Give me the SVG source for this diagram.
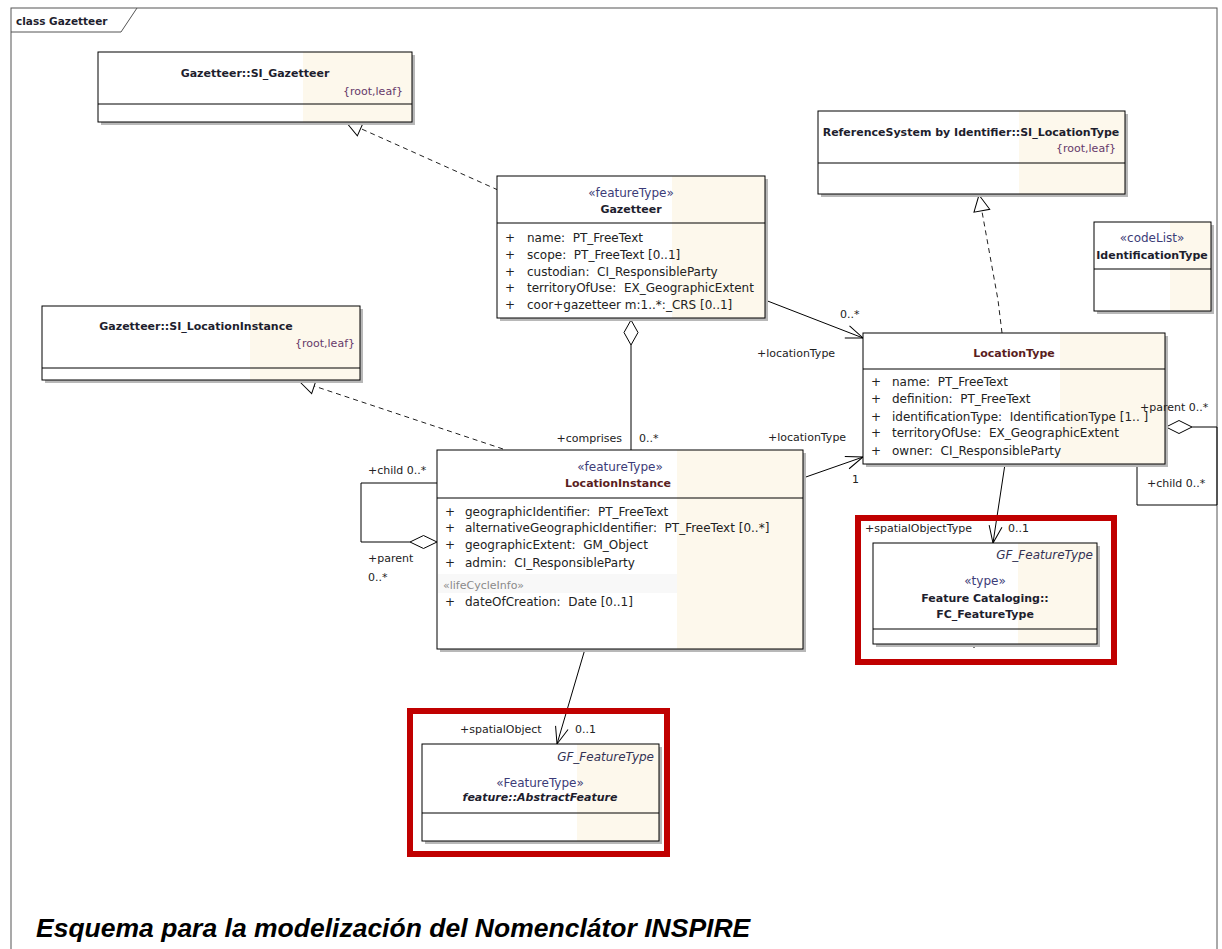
<svg xmlns="http://www.w3.org/2000/svg" width="1222" height="949" viewBox="0 0 1222 949">
<style>
.bg{fill:#fff}
.box{fill:none;stroke:#000;stroke-width:1}
.fill{fill:#fff}
.shade{fill:#fdf8ec}
.shadow{fill:#b8b8b8}
.t{font-family:"DejaVu Sans",sans-serif;font-size:12px;fill:#222;white-space:pre}
.b{font-weight:bold;font-size:11px;fill:#1e1e2e}
.nm{fill:#5a1e1e}
.st{fill:#3c3c78}
.rl{fill:#663a6a;font-size:11px}
.lbl{font-size:11px;fill:#222}
.it{font-style:italic;fill:#333355}
.grey{fill:#8a8a8a;font-size:11px}
.conn{stroke:#000;fill:none;stroke-width:1}
.dash{stroke-dasharray:5,4;stroke:#222}
.red{fill:none;stroke:#c00000;stroke-width:6}
.mid{text-anchor:middle}
.end{text-anchor:end}
</style>
<defs>
<marker id="open" viewBox="-19 -8 21 16" refX="0" refY="0" markerWidth="21" markerHeight="16" orient="auto" markerUnits="userSpaceOnUse">
<path d="M-17,-6.5 L0,0 L-17,6.5" fill="none" stroke="#000" stroke-width="1"/>
</marker>
<marker id="tri" viewBox="-18 -10 20 20" refX="0" refY="0" markerWidth="20" markerHeight="20" orient="auto" markerUnits="userSpaceOnUse">
<path d="M0,0 L-16,-8 L-16,8 Z" fill="#fff" stroke="#000" stroke-width="1" stroke-dasharray="none"/>
</marker>
</defs>
<rect class="bg" x="0" y="0" width="1222" height="949"/>
<g id="frame">
<rect x="11" y="8" width="1206" height="960" fill="none" stroke="#555" stroke-width="1"/>
<path d="M11,32 L121,32 L137,8" fill="none" stroke="#555" stroke-width="1"/>
<text class="t b" x="16" y="25" style="font-size:10.5px">class Gazetteer</text>
</g>
<g id="connectors">
<path class="conn dash" d="M498,190 L346,122" marker-end="url(#tri)"/>
<path class="conn dash" d="M503,449 L299,381" marker-end="url(#tri)"/>
<path class="conn dash" d="M1002,333 L998,300 L979,195" marker-end="url(#tri)"/>
<path class="conn" d="M765,300 L863,338" marker-end="url(#open)"/>
<path class="conn" d="M803,478 L863,457" marker-end="url(#open)"/>
<polygon points="631,320 638,332.5 631,345 624,332.5" fill="#fff" stroke="#000" stroke-width="1"/>
<path class="conn" d="M631,345 L631,450"/>
<path class="conn" d="M437,483 L361,483 L361,542 L410,542"/>
<polygon points="437,542 423.5,535.5 410,542 423.5,548.5" fill="#fff" stroke="#000" stroke-width="1"/>
<polygon points="1166,427 1179,420.5 1192,427 1179,433.5" fill="#fff" stroke="#000" stroke-width="1"/>
<path class="conn" d="M1192,427 L1217,427 L1217,505 L1137,505 L1137,464"/>
<path class="conn" d="M1005,464 L993,543" marker-end="url(#open)"/>
<path class="conn" d="M585,649 L557,744" marker-end="url(#open)"/>
<path class="conn" d="M974,644 L974,648"/>
<text class="t lbl" x="757" y="357">+locationType</text>
<text class="t lbl" x="840" y="318">0..*</text>
<text class="t lbl" x="768" y="441">+locationType</text>
<text class="t lbl" x="852" y="483">1</text>
<text class="t lbl end" x="622" y="442">+comprises</text>
<text class="t lbl" x="639" y="442">0..*</text>
<text class="t lbl" x="368" y="474">+child 0..*</text>
<text class="t lbl" x="368" y="562">+parent</text>
<text class="t lbl" x="368" y="581">0..*</text>
<text class="t lbl" x="1147" y="487">+child 0..*</text>
<text class="t lbl" x="865" y="532">+spatialObjectType</text>
<text class="t lbl" x="1008" y="532">0..1</text>
<text class="t lbl" x="460" y="733">+spatialObject</text>
<text class="t lbl" x="575" y="733">0..1</text>
</g>
<g id="SI_Gazetteer">
<rect class="shadow" x="101" y="55" width="314" height="70"/>
<rect class="fill" x="98" y="52" width="314" height="70"/>
<rect class="shade" x="303" y="52" width="109" height="70"/>
<rect class="box" x="98" y="52" width="314" height="70"/>
<line class="box" x1="98" y1="104" x2="412" y2="104"/>
<text class="t b mid" x="255" y="77">Gazetteer::SI_Gazetteer</text>
<text class="t rl end" x="403" y="95">{root,leaf}</text>
</g>
<g id="Gazetteer">
<rect class="shadow" x="500" y="179" width="268" height="142"/>
<rect class="fill" x="497" y="176" width="268" height="142"/>
<rect class="shade" x="672" y="176" width="93" height="142"/>
<rect class="box" x="497" y="176" width="268" height="142"/>
<line class="box" x1="497" y1="223" x2="765" y2="223"/>
<text class="t st mid" x="631" y="197">«featureType»</text>
<text class="t b mid" x="631" y="213">Gazetteer</text>
<text class="t" x="505" y="242">+</text><text class="t" x="527" y="242">name:  PT_FreeText</text>
<text class="t" x="505" y="259">+</text><text class="t" x="527" y="259">scope:  PT_FreeText [0..1]</text>
<text class="t" x="505" y="276">+</text><text class="t" x="527" y="276">custodian:  CI_ResponsibleParty</text>
<text class="t" x="505" y="292">+</text><text class="t" x="527" y="292">territoryOfUse:  EX_GeographicExtent</text>
<text class="t" x="505" y="309">+</text><text class="t" x="527" y="309">coor+gazetteer m:1..*:_CRS [0..1]</text>
</g>
<g id="SI_LocationType">
<rect class="shadow" x="821" y="114" width="307" height="83"/>
<rect class="fill" x="818" y="111" width="307" height="83"/>
<rect class="shade" x="1019" y="111" width="106" height="83"/>
<rect class="box" x="818" y="111" width="307" height="83"/>
<line class="box" x1="818" y1="163" x2="1125" y2="163"/>
<text class="t b mid" x="971" y="136">ReferenceSystem by Identifier::SI_LocationType</text>
<text class="t rl end" x="1116" y="152">{root,leaf}</text>
</g>
<g id="IdentificationType">
<rect class="shadow" x="1097" y="225" width="117" height="89"/>
<rect class="fill" x="1094" y="222" width="117" height="89"/>
<rect class="shade" x="1170" y="222" width="41" height="89"/>
<rect class="box" x="1094" y="222" width="117" height="89"/>
<line class="box" x1="1094" y1="269" x2="1211" y2="269"/>
<text class="t st mid" x="1152" y="242">«codeList»</text>
<text class="t b mid" x="1152" y="259">IdentificationType</text>
</g>
<g id="SI_LocationInstance">
<rect class="shadow" x="45" y="309" width="318" height="74"/>
<rect class="fill" x="42" y="306" width="318" height="74"/>
<rect class="shade" x="250" y="306" width="110" height="74"/>
<rect class="box" x="42" y="306" width="318" height="74"/>
<line class="box" x1="42" y1="368" x2="360" y2="368"/>
<text class="t b mid" x="196" y="330">Gazetteer::SI_LocationInstance</text>
<text class="t rl end" x="355" y="347">{root,leaf}</text>
</g>
<g id="LocationType">
<rect class="shadow" x="866" y="336" width="302" height="131"/>
<rect class="fill" x="863" y="333" width="302" height="131"/>
<rect class="shade" x="1060" y="333" width="105" height="131"/>
<rect class="box" x="863" y="333" width="302" height="131"/>
<line class="box" x1="863" y1="369" x2="1165" y2="369"/>
<text class="t b nm mid" x="1014" y="357">LocationType</text>
<text class="t" x="871" y="386">+</text><text class="t" x="892" y="386">name:  PT_FreeText</text>
<text class="t" x="871" y="403">+</text><text class="t" x="892" y="403">definition:  PT_FreeText</text>
<text class="t" x="871" y="421">+</text><text class="t" x="892" y="421">identificationType:  IdentificationType [1.. ]</text>
<text class="t" x="871" y="437">+</text><text class="t" x="892" y="437">territoryOfUse:  EX_GeographicExtent</text>
<text class="t" x="871" y="455">+</text><text class="t" x="892" y="455">owner:  CI_ResponsibleParty</text>
<text class="t lbl" x="1140" y="411">+parent 0..*</text>
</g>
<g id="LocationInstance">
<rect class="shadow" x="440" y="453" width="366" height="199"/>
<rect class="fill" x="437" y="450" width="366" height="199"/>
<rect class="shade" x="677" y="450" width="126" height="199"/>
<rect x="438" y="574" width="239" height="19" fill="#f8f8f8"/>
<rect class="box" x="437" y="450" width="366" height="199"/>
<line class="box" x1="437" y1="498" x2="803" y2="498"/>
<text class="t st mid" x="620" y="471">«featureType»</text>
<text class="t b nm mid" x="618" y="487">LocationInstance</text>
<text class="t" x="445" y="516">+</text><text class="t" x="465" y="516">geographicIdentifier:  PT_FreeText</text>
<text class="t" x="445" y="532">+</text><text class="t" x="465" y="532">alternativeGeographicIdentifier:  PT_FreeText [0..*]</text>
<text class="t" x="445" y="549">+</text><text class="t" x="465" y="549">geographicExtent:  GM_Object</text>
<text class="t" x="445" y="567">+</text><text class="t" x="465" y="567">admin:  CI_ResponsibleParty</text>
<text class="t grey" x="443" y="589">«lifeCycleInfo»</text>
<text class="t" x="445" y="606">+</text><text class="t" x="465" y="606">dateOfCreation:  Date [0..1]</text>
</g>
<g id="FC_FeatureType">
<rect class="shadow" x="876" y="546" width="224" height="101"/>
<rect class="fill" x="873" y="543" width="224" height="101"/>
<rect class="shade" x="1018" y="543" width="79" height="101"/>
<rect class="box" x="873" y="543" width="224" height="101"/>
<line class="box" x1="873" y1="629" x2="1097" y2="629"/>
<text class="t it end" x="1093" y="559">GF_FeatureType</text>
<text class="t st mid" x="985" y="585">«type»</text>
<text class="t b mid" x="985" y="602">Feature Cataloging::</text>
<text class="t b mid" x="985" y="618">FC_FeatureType</text>
<rect class="red" x="858" y="518" width="256" height="144"/>
</g>
<g id="AbstractFeature">
<rect class="shadow" x="425" y="747" width="237" height="97"/>
<rect class="fill" x="422" y="744" width="237" height="97"/>
<rect class="shade" x="577" y="744" width="82" height="97"/>
<rect class="box" x="422" y="744" width="237" height="97"/>
<line class="box" x1="422" y1="813" x2="659" y2="813"/>
<text class="t it end" x="654" y="761">GF_FeatureType</text>
<text class="t st mid" x="540" y="787">«FeatureType»</text>
<text class="t b mid" x="540" y="801" style="font-style:italic">feature::AbstractFeature</text>
<rect class="red" x="410" y="711" width="257" height="143"/>
</g>
<g id="caption">
<text x="36" y="937" style="font-family:'Liberation Sans',Arial,sans-serif;font-size:26.5px;font-weight:bold;font-style:italic;fill:#000">Esquema para la modelización del Nomenclátor INSPIRE</text>
</g>
</svg>
